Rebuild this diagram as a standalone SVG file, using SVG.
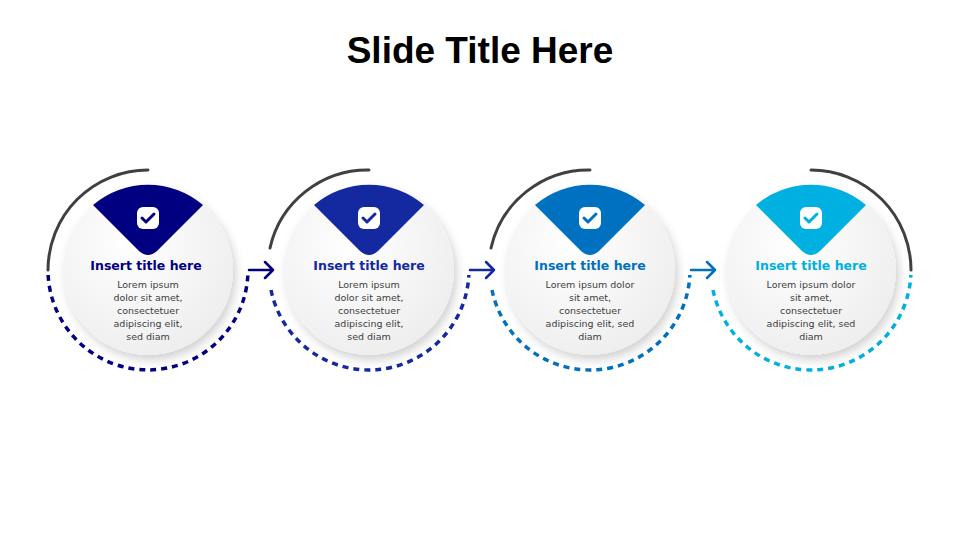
<svg xmlns="http://www.w3.org/2000/svg" width="960" height="540" viewBox="0 0 960 540">
<defs>
<radialGradient id="g" cx="0.4" cy="0.35" r="0.75"><stop offset="0" stop-color="#ffffff"/><stop offset="1" stop-color="#ececec"/></radialGradient>
<filter id="sh" x="-30%" y="-30%" width="160%" height="160%"><feDropShadow dx="3" dy="5" stdDeviation="5" flood-color="#000" flood-opacity="0.18"/></filter>
</defs>
<style>
.gray{fill:none;stroke:#404040;stroke-width:3;stroke-linecap:round}
.dash{fill:none;stroke-width:3.5;stroke-dasharray:6 5}
.disc{fill:url(#g);filter:url(#sh)}
.tt{font-family:"DejaVu Sans",sans-serif;font-weight:bold;font-size:12.5px;text-anchor:middle}
.bd{font-family:"DejaVu Sans",sans-serif;font-size:9.5px;fill:#404040;text-anchor:middle}
.arr{fill:none;stroke-width:2.5;stroke-linecap:round;stroke-linejoin:round}
</style>
<rect width="960" height="540" fill="#fff"/>
<text x="480" y="63" font-family="Liberation Sans,Arial,sans-serif" font-weight="bold" font-size="37" text-anchor="middle" fill="#000">Slide Title Here</text>
<g id="connectors">
<path class="arr" stroke="#000080" d="M249,270 H273 M265,262 L273,270 L265,278"/>
<path class="arr" stroke="#1428A0" d="M470,270 H494 M486,262 L494,270 L486,278"/>
<path class="arr" stroke="#0070C0" d="M691,270 H715 M707,262 L715,270 L707,278"/>
</g>
<g id="step1">
<path class="gray" d="M48,270 A100,100 0 0 1 148,170"/>
<path class="dash" stroke="#000080" d="M48.13,275 A100,100 0 0 0 247.87,275"/>
<circle class="disc" cx="148" cy="270" r="85"/>
<path fill="#000080" d="M93,205 A85,85 0 0 1 203,205 L157,251 Q148,259 139,251 Z"/>
<rect x="137" y="207" width="22" height="22" rx="6" fill="#fff"/>
<path d="M142,218 L146,222 L154,214" fill="none" stroke="#000080" stroke-width="3" stroke-linecap="round" stroke-linejoin="round"/>
<text class="tt" x="146" y="270" fill="#000080">Insert title here</text>
<text class="bd" x="148" y="288">Lorem ipsum</text><text class="bd" x="148" y="301">dolor sit amet,</text><text class="bd" x="148" y="314">consectetuer</text><text class="bd" x="148" y="327">adipiscing elit,</text><text class="bd" x="148" y="340">sed diam</text>
</g>
<g id="step2">
<path class="gray" d="M270,248 A100,100 0 0 1 369,170"/>
<path class="dash" stroke="#1428A0" d="M271.02,290 A100,100 0 0 0 468.87,275"/>
<circle class="disc" cx="369" cy="270" r="85"/>
<path fill="#1428A0" d="M314,205 A85,85 0 0 1 424,205 L378,251 Q369,259 360,251 Z"/>
<rect x="358" y="207" width="22" height="22" rx="6" fill="#fff"/>
<path d="M363,218 L367,222 L375,214" fill="none" stroke="#1428A0" stroke-width="3" stroke-linecap="round" stroke-linejoin="round"/>
<text class="tt" x="369" y="270" fill="#1428A0">Insert title here</text>
<text class="bd" x="369" y="288">Lorem ipsum</text><text class="bd" x="369" y="301">dolor sit amet,</text><text class="bd" x="369" y="314">consectetuer</text><text class="bd" x="369" y="327">adipiscing elit,</text><text class="bd" x="369" y="340">sed diam</text>
</g>
<g id="step3">
<path class="gray" d="M491,248 A100,100 0 0 1 590,170"/>
<path class="dash" stroke="#0070C0" d="M492.02,290 A100,100 0 0 0 689.87,275"/>
<circle class="disc" cx="590" cy="270" r="85"/>
<path fill="#0070C0" d="M535,205 A85,85 0 0 1 645,205 L599,251 Q590,259 581,251 Z"/>
<rect x="579" y="207" width="22" height="22" rx="6" fill="#fff"/>
<path d="M584,218 L588,222 L596,214" fill="none" stroke="#0070C0" stroke-width="3" stroke-linecap="round" stroke-linejoin="round"/>
<text class="tt" x="590" y="270" fill="#0070C0">Insert title here</text>
<text class="bd" x="590" y="288">Lorem ipsum dolor</text><text class="bd" x="590" y="301">sit amet,</text><text class="bd" x="590" y="314">consectetuer</text><text class="bd" x="590" y="327">adipiscing elit, sed</text><text class="bd" x="590" y="340">diam</text>
</g>
<g id="step4">
<path class="gray" d="M811,170 A100,100 0 0 1 911,270"/>
<path class="dash" stroke="#00B0E0" d="M713.02,290 A100,100 0 0 0 910.87,275"/>
<circle class="disc" cx="811" cy="270" r="85"/>
<path fill="#00B0E0" d="M756,205 A85,85 0 0 1 866,205 L820,251 Q811,259 802,251 Z"/>
<rect x="800" y="207" width="22" height="22" rx="6" fill="#fff"/>
<path d="M805,218 L809,222 L817,214" fill="none" stroke="#00B0E0" stroke-width="3" stroke-linecap="round" stroke-linejoin="round"/>
<text class="tt" x="811" y="270" fill="#00B0E0">Insert title here</text>
<text class="bd" x="811" y="288">Lorem ipsum dolor</text><text class="bd" x="811" y="301">sit amet,</text><text class="bd" x="811" y="314">consectetuer</text><text class="bd" x="811" y="327">adipiscing elit, sed</text><text class="bd" x="811" y="340">diam</text>
</g>
</svg>
